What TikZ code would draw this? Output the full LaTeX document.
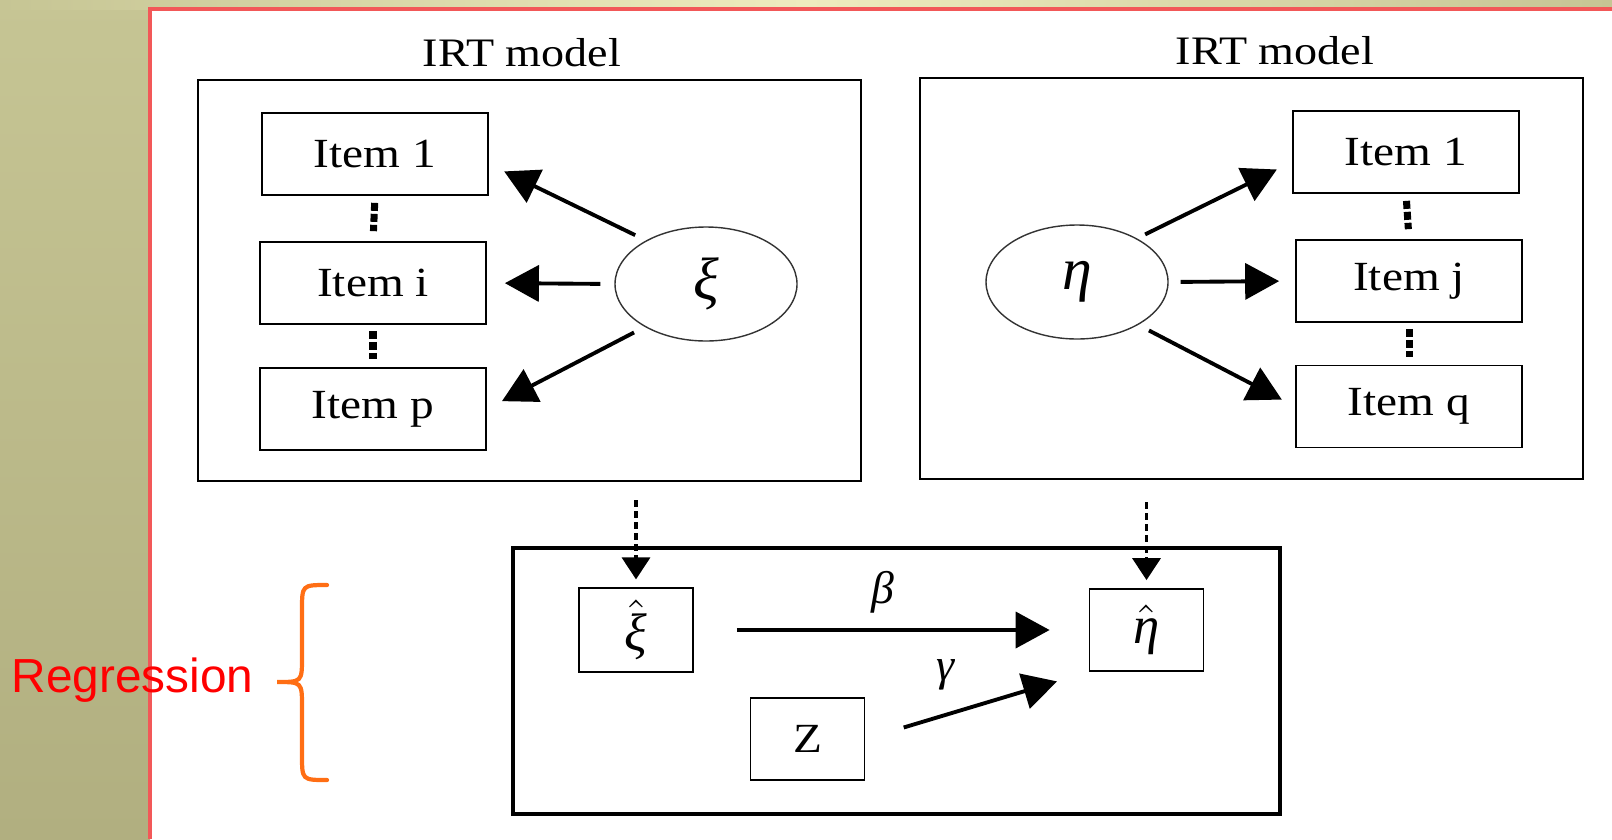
\documentclass[tikz,border=0pt]{standalone}
\usepackage{fix-cm}
\usepackage{fontspec}
\setmainfont{Liberation Serif}
\newfontfamily\itemfont{Liberation Serif}[FakeStretch=1.14]
\newfontfamily\notefont{Liberation Sans}
\newcommand{\grk}[1]{{\itshape #1}}
\usepackage{xcolor}
\definecolor{olivedark}{RGB}{177,175,128}
\definecolor{olivelight}{RGB}{198,197,148}
\definecolor{creamtop}{RGB}{238,236,190}
\definecolor{slidered}{RGB}{242,88,88}
\definecolor{braceorange}{RGB}{255,110,20}
\usetikzlibrary{shapes.geometric,arrows.meta,calc,positioning}

\tikzset{
  panel/.style={draw, line width=0.6pt, minimum width=6.63cm, minimum height=4.01cm},
  itembox/.style={draw, line width=0.5pt, minimum width=2.26cm, minimum height=0.82cm, font=\itemfont\fontsize{11.8}{13}\selectfont},
  latent/.style={draw=black!80, ellipse, line width=0.4pt, minimum width=1.82cm, minimum height=1.14cm, inner sep=0pt, font=\fontsize{17}{19}\selectfont},
  estbox/.style={draw, line width=0.5pt, minimum width=1.14cm, minimum height=0.82cm, font=\fontsize{15}{17}\selectfont},
  loading/.style={-{Triangle[length=0.34cm,width=0.36cm]}, line width=1.1pt},
  vdots/.style={line width=2pt, dash pattern=on 0.08cm off 0.03cm},
  feed/.style={-{Triangle[length=0.22cm,width=0.28cm]}, line width=1pt, dash pattern=on 0.07cm off 0.04cm},
  coef/.style={font=\fontsize{13}{15}\selectfont},
}

\begin{document}
\begin{tikzpicture}
    \useasboundingbox (0,0) rectangle (16.12,8.39);
    % slide background
    \shade[top color=olivelight, bottom color=olivedark] (0,0) rectangle (1.50,8.39);
    \shade[left color=olivelight, right color=olivelight, middle color=creamtop] (0,8.30) rectangle (16.12,8.39);
    \draw[slidered, line width=0.9pt] (1.50,0) -- (1.50,8.30) -- (16.12,8.30);

    % IRT models
    \node[panel] (leftbox) at (5.295,5.585) {};
    \node[panel] (rightbox) at (12.515,5.605) {};
    \node[font=\itemfont\fontsize{11.5}{13}\selectfont] (irtleft) at (5.22,7.86) {IRT model};
    \node[font=\itemfont\fontsize{11.5}{13}\selectfont] (irtright) at (12.75,7.88) {IRT model};

    \node[itembox] (litem1) at (3.75,6.85) {Item 1};
    \node[itembox] (litemi) at (3.73,5.56) {Item i};
    \node[itembox] (litemp) at (3.73,4.30) {Item p};
    \node[latent] (xi) at (7.06,5.55) {\grk{ξ}};

    \node[itembox] (ritem1) at (14.06,6.87) {Item 1};
    \node[itembox] (ritemj) at (14.09,5.58) {Item j};
    \node[itembox] (ritemq) at (14.09,4.325) {Item q};
    \node[latent] (eta) at (10.77,5.57) {\grk{η}};

    % Loadings
    \draw[loading, shorten <=0.12cm, shorten >=0.17cm] (xi.144) -- (litem1.-5);
    \draw[loading, shorten <=0.14cm, shorten >=0.18cm] (xi.west) -- (litemi.east);
    \draw[loading, shorten <=0.12cm, shorten >=0.17cm] (xi.215) -- (litemp.east);
    \draw[loading, shorten <=0.09cm, shorten >=0.17cm] (eta.36) -- (ritem1.185);
    \draw[loading, shorten <=0.12cm, shorten >=0.16cm] (eta.east) -- (ritemj.west);
    \draw[loading, shorten <=0.12cm, shorten >=0.15cm] (eta.-35) -- (ritemq.west);

    \draw[vdots, shorten <=0.07cm, shorten >=0.10cm] (litem1.south) -- (litemi.north);
    \draw[vdots, shorten <=0.06cm, shorten >=0.08cm] (litemi.south) -- (litemp.north);
    \draw[vdots, shorten <=0.07cm, shorten >=0.10cm] (ritem1.south) -- (ritemj.north);
    \draw[vdots, shorten <=0.06cm, shorten >=0.075cm] (ritemj.south) -- (ritemq.north);

    % Regression
    \node[draw, line width=1.3pt, minimum width=7.67cm, minimum height=2.66cm] (regbox) at (8.965,1.58) {};
    \node[estbox] (xihat) at (6.36,2.09) {$\hat{\mbox{\grk{ξ}}}$};
    \node[estbox] (etahat) at (11.465,2.09) {$\hat{\mbox{\grk{η}}}$};
    \node[estbox, font=\itemfont\fontsize{11.8}{13}\selectfont] (zcov) at (8.075,1.00) {Z};

    \draw[feed, shorten <=0.18cm, shorten >=0.08cm] (leftbox.south -| xihat) -- (xihat.north);
    \draw[feed, shorten <=0.22cm, shorten >=0.08cm] (rightbox.south -| etahat) -- (etahat.north);

    \draw[loading, shorten <=0.43cm, shorten >=0.39cm] (xihat) -- (etahat)
        node[coef, pos=0.48, above=1pt] {\grk{β}};
    \draw[loading, shorten <=0.40cm, shorten >=0.33cm] (zcov.east) -- (etahat.south west)
        node[coef, pos=0.36, above=3pt] {\grk{γ}};

    % Annotation
    \node[text=red, font=\notefont\fontsize{13.6}{16}\selectfont, anchor=base west, inner sep=0pt] (regnote) at (0.11,1.47) {Regression};
    \draw[braceorange, line width=1.2pt, line cap=round]
        (3.27,2.54) .. controls (3.02,2.54) .. (3.02,2.29) -- (3.02,1.82)
        .. controls (3.02,1.57) .. (2.77,1.57)
        .. controls (3.02,1.57) .. (3.02,1.32) -- (3.02,0.84)
        .. controls (3.02,0.59) .. (3.27,0.59);
\end{tikzpicture}
\end{document}
